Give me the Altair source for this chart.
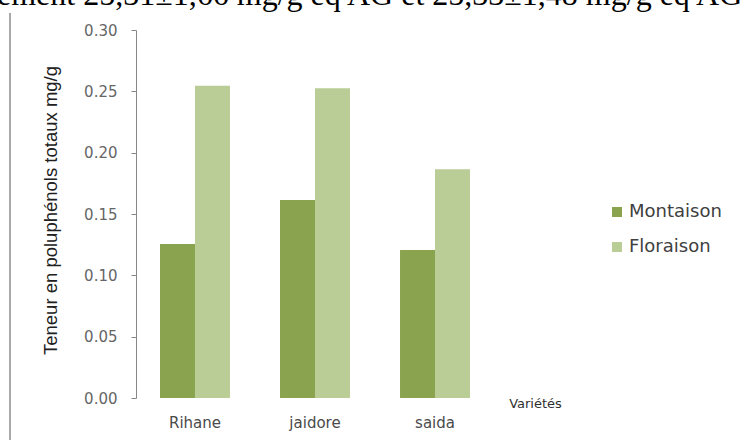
import altair as alt
import pandas as pd

varietes = ["Rihane", "jaidore", "saida"]
stades = ["Montaison", "Floraison"]
montaison = [0.1255, 0.1614, 0.1206]
floraison = [0.2545, 0.2525, 0.1864]
y_ticks = [0.00, 0.05, 0.10, 0.15, 0.20, 0.25, 0.30]
colors = ["#89A34E", "#BBCD96"]
top_text = "ement 25,31±1,66 mg/g eq AG et 25,33±1,48 mg/g eq AG"

rows = []
for v, m, f in zip(varietes, montaison, floraison):
    rows.append({"Variété": v, "Stade": "Montaison", "Teneur": m})
    rows.append({"Variété": v, "Stade": "Floraison", "Teneur": f})
df = pd.DataFrame(rows)

W, H = 358, 368

bars = alt.Chart(df).mark_bar().encode(
    x=alt.X("Variété:N", sort=varietes,
            scale=alt.Scale(paddingInner=0.417, paddingOuter=0.2),
            axis=alt.Axis(title="Variétés", domain=False, ticks=False, labelAngle=0,
                          labelFont="DejaVu Sans", labelFontSize=15, labelColor="#4a4a4a",
                          labelPadding=17, titleFont="DejaVu Sans", titleFontSize=13,
                          titleFontWeight="normal", titleColor="#303030",
                          titleX=399, titleY=5, titleAlign="center", titleBaseline="middle")),
    xOffset=alt.XOffset("Stade:N", sort=stades, scale=alt.Scale(paddingInner=0, paddingOuter=0)),
    y=alt.Y("Teneur:Q", scale=alt.Scale(domain=[0, 0.3], nice=False),
            axis=alt.Axis(title="Teneur en poluphénols totaux mg/g", values=y_ticks, format=".2f",
                          grid=False, domainColor="#868686", tickColor="#868686", tickSize=5,
                          labelFont="DejaVu Sans", labelFontSize=15, labelColor="#666666",
                          labelPadding=14,
                          titleFont="Liberation Sans", titleFontSize=18.5, titleFontWeight="normal",
                          titleColor="#202020", titleAngle=-90, titleX=-86, titleY=H / 2 - 4,
                          titleAlign="center", titleBaseline="middle")),
    color=alt.Color("Stade:N", sort=stades, scale=alt.Scale(domain=stades, range=colors),
                    legend=alt.Legend(title=None, orient="none", legendX=472, legendY=173,
                                      symbolType="square", symbolSize=100, symbolStrokeWidth=0,
                                      labelFont="DejaVu Sans", labelFontSize=18,
                                      labelColor="#404040", rowPadding=17, labelOffset=3)),
)

border = alt.Chart(pd.DataFrame({"k": [0]})).mark_rule(color="#555555", strokeWidth=1).encode(
    x=alt.value(-126), y=alt.value(-17), y2=alt.value(H + 50)
)

header = alt.Chart(pd.DataFrame({"t": [top_text]})).mark_text(
    font="Liberation Serif", fontSize=32, color="#000000", align="left", baseline="alphabetic"
).encode(x=alt.value(-139), y=alt.value(-25), text="t:N")

chart = alt.layer(bars, border, header).properties(
    width=W, height=H,
    autosize=alt.AutoSizeParams(type="none"),
    padding={"left": 136, "top": 30, "right": 250, "bottom": 42},
).configure(background="white").configure_view(strokeWidth=0)

chart.save("out.html", embed_options={"renderer": "svg", "actions": False})
